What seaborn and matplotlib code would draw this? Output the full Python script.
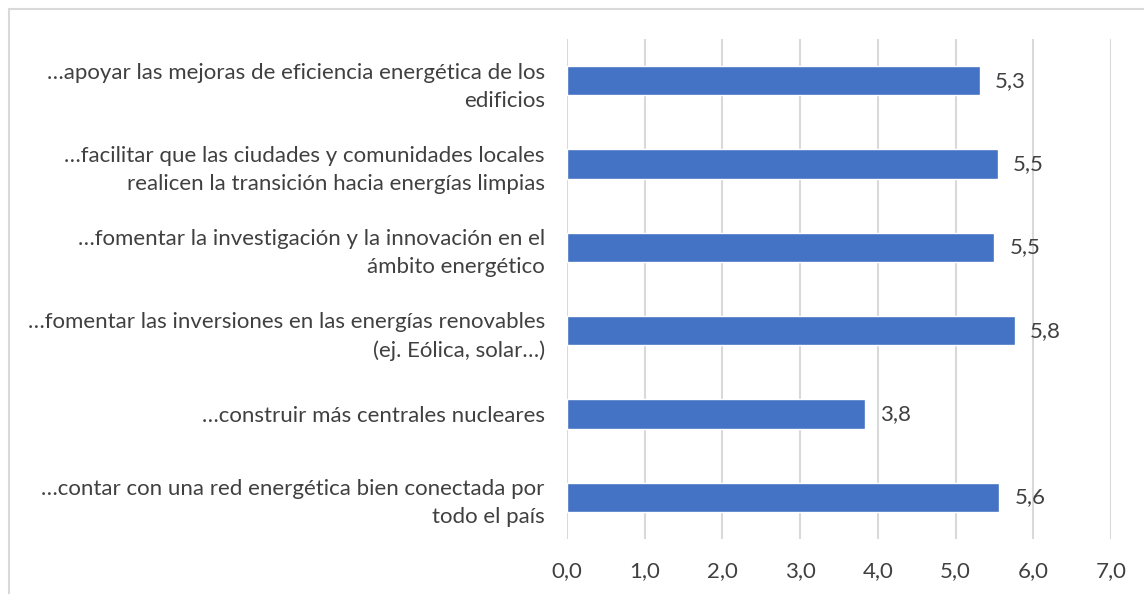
import matplotlib
matplotlib.use("Agg")
import matplotlib.pyplot as plt
import seaborn as sns
import pandas as pd
from matplotlib.patches import Rectangle

categories = [
    "…apoyar las mejoras de eficiencia energética de los\nedificios",
    "…facilitar que las ciudades y comunidades locales\nrealicen la transición hacia energías limpias",
    "…fomentar la investigación y la innovación en el\námbito energético",
    "…fomentar las inversiones en las energías renovables\n(ej. Eólica, solar…)",
    "…construir más centrales nucleares",
    "…contar con una red energética bien conectada por\ntodo el país",
]
values = [5.31, 5.54, 5.50, 5.76, 3.83, 5.56]
xticks = [0, 1, 2, 3, 4, 5, 6, 7]

df = pd.DataFrame({"cat": categories, "val": values})

sns.set_theme(style="white")
plt.rcParams["font.family"] = ["Lato", "DejaVu Sans"]
text_color = "#404040"

fig = plt.figure(figsize=(11.44, 5.94), dpi=100)
ax = fig.add_axes([567 / 1144, 1 - 539 / 594, 544 / 1144, 500 / 594])

sns.barplot(data=df, x="val", y="cat", orient="h", color="#4472C4",
            saturation=1, width=0.35, ax=ax, zorder=3)

ax.set_xlim(0, 7)
ax.set_xticks(xticks)
ax.set_xticklabels([f"{t:.1f}".replace(".", ",") for t in xticks],
                   fontsize=16, color=text_color)
ax.set_ylim(5.5, -0.5)
ax.tick_params(axis="y", length=0, pad=16, labelsize=16, labelcolor=text_color)
ax.tick_params(axis="x", length=0, pad=16)
for lbl in ax.get_yticklabels():
    lbl.set_horizontalalignment("right")
    lbl.set_multialignment("right")
    lbl.set_linespacing(1.5)
ax.set_xlabel("")
ax.set_ylabel("")
ax.grid(axis="x", color="#d9d9d9", linewidth=1.5, zorder=0)
ax.grid(axis="y", visible=False)
for s in ax.spines.values():
    s.set_visible(False)

ax.bar_label(ax.containers[0],
             labels=[f"{v:.1f}".replace(".", ",") for v in values],
             padding=11, fontsize=16, color=text_color)

fig.patches.append(Rectangle((9 / 1144, -0.1), 1.2, 1 - 9 / 594 + 0.1,
                             transform=fig.transFigure, fill=False,
                             edgecolor="#d9d9d9", linewidth=1.5))

fig.savefig("out.png", dpi=100)
